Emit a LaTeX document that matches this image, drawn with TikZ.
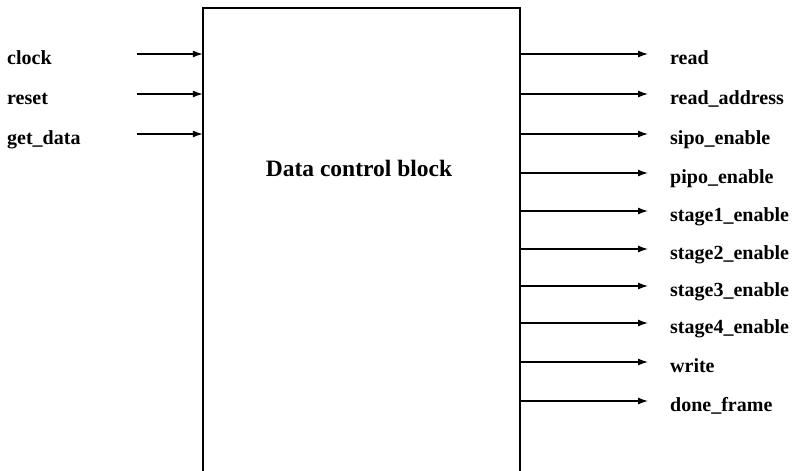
\documentclass[tikz,border=0pt]{standalone}
\usepackage{fontspec}
\setmainfont{Liberation Serif}
\usetikzlibrary{arrows.meta}
\begin{document}
\begin{tikzpicture}[x=1pt,y=-1pt,
  sig/.style={font=\fontsize{20}{21}\selectfont\bfseries, inner sep=0pt, anchor=base west},
  wire/.style={line width=1.3pt, -{Latex[length=10pt,width=7pt]}},
  edge/.style={line width=1.6pt}]
\useasboundingbox (0,0) rectangle (796,471);
\node[minimum width=317pt, minimum height=463pt, inner sep=0pt] (blk) at (361.5,239.5) {};
\draw[edge] (blk.south west) -- (blk.north west) -- (blk.north east) -- (blk.south east);
\node[font=\fontsize{23.5}{25}\selectfont\bfseries, inner sep=0pt] (title) at (359,168) {Data control block};
% inputs
\foreach \y/\t/\n in {54/clock/i1, 94/reset/i2, 134/get\_data/i3}{
  \node[sig] (\n) at (7,\y+10) {\t};
  \coordinate (\n s) at (137,\y);
  \draw[wire] (\n s) -- (\n s -| blk.west);
}
% outputs
\foreach \y/\t/\n in {54/read/o1, 94/read\_address/o2, 134/sipo\_enable/o3, 173/pipo\_enable/o4,
  211/stage1\_enable/o5, 249/stage2\_enable/o6, 286/stage3\_enable/o7, 323/stage4\_enable/o8,
  362/write/o9, 401/done\_frame/o10}{
  \node[sig] (\n) at (670,\y+10) {\t};
  \coordinate (\n e) at (648,\y);
  \draw[wire] (\n e -| blk.east) -- (\n e);
}
\end{tikzpicture}
\end{document}
